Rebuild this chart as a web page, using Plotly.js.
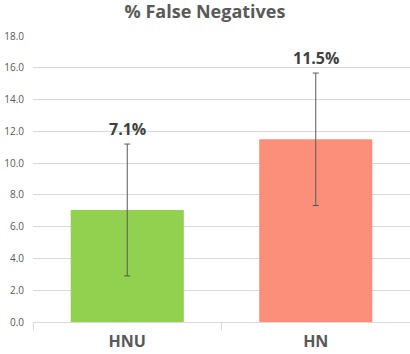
<!DOCTYPE html>
<html>
<head>
<meta charset="utf-8">
<script src="https://cdn.plot.ly/plotly-3.0.1.min.js"></script>
<style>
  html, body { margin: 0; padding: 0; background: #ffffff; }
  #chart { width: 410px; height: 354px; }
</style>
</head>
<body>
<div id="chart"></div>
<script>
const categories = ["HNU", "HN"];
const values = [7.05, 11.5];
const errors = [4.15, 4.17];
const valueLabels = ["7.1%", "11.5%"];
const barColors = ["#92D050", "#FC8F79"];

const trace = {
  type: "bar",
  x: categories,
  y: values,
  width: 0.6,
  marker: { color: barColors },
  error_y: {
    type: "data",
    array: errors,
    visible: true,
    color: "#595959",
    thickness: 1,
    width: 3
  },
  hoverinfo: "x+y"
};

const annotations = categories.map((cat, i) => ({
  x: cat,
  y: values[i] + errors[i],
  text: "<b>" + valueLabels[i] + "</b>",
  showarrow: false,
  xanchor: "center",
  yanchor: "bottom",
  yshift: 2,
  font: { family: "Open Sans, sans-serif", size: 16, color: "#404040" }
}));

const layout = {
  width: 410,
  height: 354,
  paper_bgcolor: "#ffffff",
  plot_bgcolor: "#ffffff",
  margin: { l: 33, r: 0, t: 36, b: 32 },
  showlegend: false,
  font: { family: "Open Sans, sans-serif", color: "#595959" },
  title: {
    text: "<b>% False Negatives</b>",
    x: 0.5,
    xanchor: "center",
    y: 0.967,
    yanchor: "middle",
    font: { family: "Open Sans, sans-serif", size: 18, color: "#595959" }
  },
  xaxis: {
    type: "category",
    tickson: "boundaries",
    ticks: "outside",
    ticklen: 7,
    tickcolor: "#d9d9d9",
    ticklabelstandoff: 5,
    showline: true,
    linecolor: "#d9d9d9",
    linewidth: 1,
    showgrid: false,
    zeroline: false,
    tickfont: { family: "Open Sans, sans-serif", size: 16, color: "#595959", weight: "bold" }
  },
  yaxis: {
    range: [0, 18],
    dtick: 2,
    tickformat: ".1f",
    showgrid: true,
    gridcolor: "#d9d9d9",
    gridwidth: 1,
    zeroline: false,
    showline: false,
    ticks: "",
    ticklabelstandoff: 8,
    tickfont: { family: "Open Sans, sans-serif", size: 10, color: "#595959" }
  },
  annotations: annotations
};

Plotly.newPlot("chart", [trace], layout, { displayModeBar: false, responsive: false });
</script>
</body>
</html>
